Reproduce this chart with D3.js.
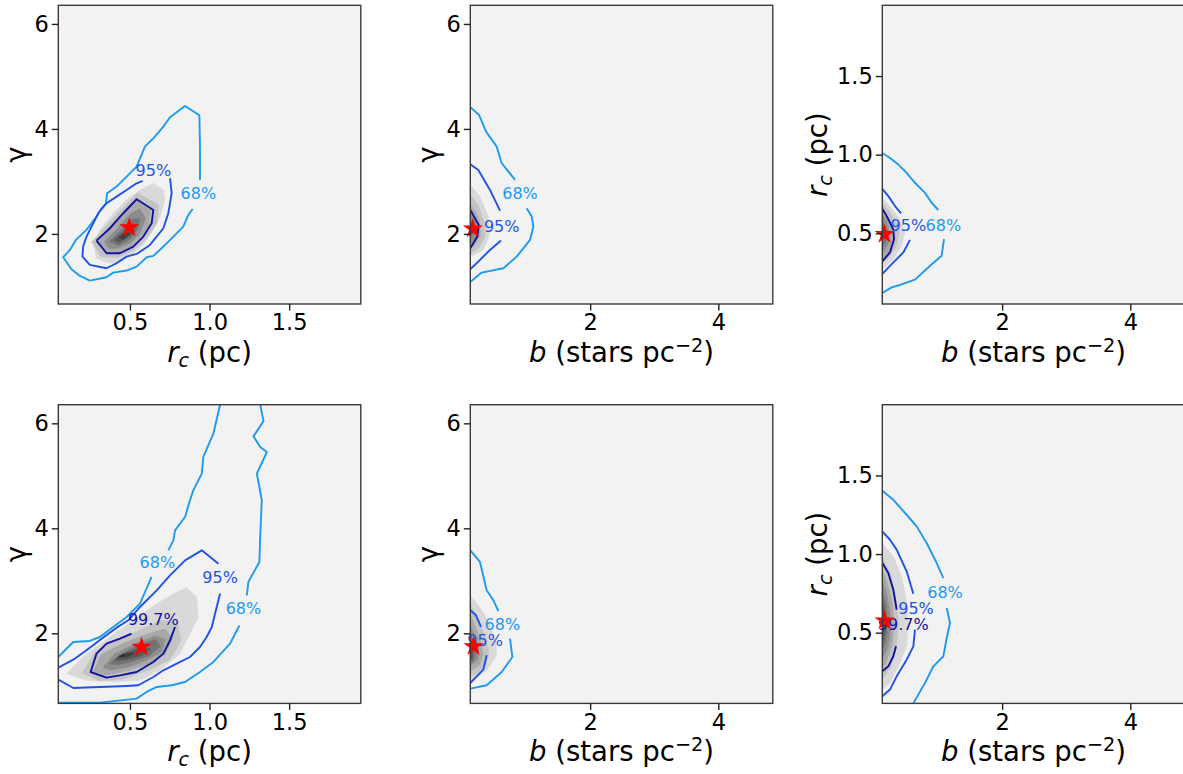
<!DOCTYPE html>
<html><head><meta charset="utf-8">
<script src="https://cdn.jsdelivr.net/npm/d3@7"></script>
<style>body{margin:0;background:#fff;} svg{display:block;font-family:"DejaVu Sans",sans-serif;}</style>
</head><body><svg id="chart" width="1183" height="774"></svg>
<script>
// ---------- axis data ----------
const RC_DOMAIN = [0.05, 1.95];
const GAMMA_DOMAIN = [0.665, 6.355];
const B_DOMAIN = [0.13, 4.85];
const RC_TICKS = [0.5, 1.0, 1.5];
const GAMMA_TICKS = [2, 4, 6];
const B_TICKS = [2, 4];
const LEVEL_NAMES = ["68%", "95%", "99.7%"];

// ---------- panel 1: r_c vs gamma (top) ----------
const p1_68 = [[[0.94,3.029],[0.94,3.663],[0.936,4.26],[0.846,4.438],[0.752,4.222],[0.71,4.044],[0.647,3.822],[0.594,3.663],[0.542,3.283],[0.479,3.092],[0.416,2.902],[0.357,2.775],[0.349,2.584],[0.322,2.489],[0.29,2.33],[0.227,2.076],[0.16,1.886],[0.123,1.695],[0.081,1.556],[0.133,1.327],[0.186,1.2],[0.248,1.111],[0.353,1.175],[0.395,1.263],[0.479,1.302],[0.542,1.378],[0.605,1.556],[0.647,1.581],[0.71,1.759],[0.773,1.949],[0.835,2.14],[0.867,2.362],[0.894,2.476]]];
const p1_95 = [[[0.58,3.01],[0.542,2.965],[0.479,2.838],[0.416,2.711],[0.353,2.584],[0.301,2.394],[0.259,2.14],[0.227,1.949],[0.206,1.759],[0.202,1.568],[0.248,1.41],[0.353,1.346],[0.416,1.441],[0.479,1.568],[0.542,1.619],[0.626,1.79],[0.71,2.108],[0.741,2.394],[0.762,2.775],[0.752,3.06]]];
const p1_997 = [[[0.29,1.873],[0.374,2.108],[0.458,2.394],[0.542,2.66],[0.647,2.457],[0.636,2.203],[0.584,1.949],[0.521,1.759],[0.437,1.632],[0.353,1.632],[0.29,1.873]]];
const p1_fill = [
 [[0.647,2.965],[0.71,2.838],[0.72,2.648],[0.689,2.33],[0.647,2.076],[0.584,1.79],[0.5,1.581],[0.406,1.441],[0.353,1.454],[0.29,1.537],[0.274,1.759],[0.311,2.076],[0.395,2.394],[0.479,2.648],[0.563,2.838]],
 [[0.26,1.85],[0.35,2.15],[0.45,2.48],[0.55,2.78],[0.68,2.55],[0.67,2.2],[0.6,1.9],[0.52,1.68],[0.42,1.55],[0.32,1.56]],
 [[0.3,1.86],[0.38,2.1],[0.46,2.38],[0.54,2.63],[0.63,2.45],[0.62,2.2],[0.57,1.95],[0.51,1.77],[0.43,1.65],[0.35,1.65]],
 [[0.34,1.85],[0.42,2.1],[0.5,2.38],[0.56,2.48],[0.6,2.3],[0.56,2.0],[0.5,1.82],[0.42,1.72],[0.37,1.72]],
 [[0.37,1.85],[0.44,2.05],[0.51,2.28],[0.56,2.3],[0.55,2.1],[0.5,1.9],[0.43,1.78]],
 [[0.4,1.88],[0.46,2.04],[0.52,2.18],[0.53,2.05],[0.48,1.92],[0.43,1.84]],
 [[0.43,1.92],[0.48,2.05],[0.5,2.0],[0.46,1.9]]
];
const p1_labels = [["95%",0.647,3.206,1],["68%",0.93,2.775,0]];
const p1_star = [0.496, 2.12];

// ---------- panel 2: b vs gamma (top) ----------
const p2_68 = [
 [[0.13,4.413],[0.266,4.267],[0.375,3.949],[0.542,3.663],[0.62,3.346],[0.828,3.029]],
 [[1.01,2.489],[1.088,2.33],[1.114,2.14],[1.062,1.886],[0.854,1.568],[0.646,1.346],[0.307,1.263],[0.13,1.086]]
];
const p2_95 = [
 [[0.13,3.327],[0.255,3.219],[0.437,2.838],[0.594,2.444]],
 [[0.609,1.873],[0.437,1.695],[0.281,1.505],[0.13,1.327]]
];
const p2_997 = [[[0.13,2.457],[0.188,2.33],[0.261,2.171],[0.24,1.949],[0.177,1.822],[0.13,1.727]]];
const p2_fill = [
 [[0.13,2.933],[0.281,2.711],[0.411,2.33],[0.427,1.981],[0.333,1.695],[0.13,1.568]],
 [[0.13,2.75],[0.25,2.55],[0.35,2.2],[0.36,1.95],[0.27,1.75],[0.13,1.62]],
 [[0.13,2.55],[0.22,2.4],[0.29,2.15],[0.28,1.95],[0.2,1.8],[0.13,1.7]],
 [[0.13,2.4],[0.2,2.25],[0.24,2.1],[0.22,1.95],[0.13,1.8]],
 [[0.13,2.28],[0.18,2.15],[0.19,2.05],[0.13,1.9]],
 [[0.13,2.18],[0.155,2.1],[0.13,2.0]]
];
const p2_labels = [["68%",0.906,2.775,0],["95%",0.62,2.152,1]];
const p2_star = [0.17, 2.1];

// ---------- panel 3: b vs r_c (top) ----------
const p3_68 = [
 [[0.13,1.011],[0.25,0.979],[0.38,0.937],[0.51,0.884],[0.64,0.821],[0.796,0.757],[0.9,0.694],[1.004,0.648]],
 [[1.093,0.462],[1.056,0.357],[0.875,0.293],[0.64,0.205],[0.406,0.171],[0.276,0.156],[0.13,0.12]]
];
const p3_95 = [
 [[0.13,0.783],[0.224,0.736],[0.328,0.673],[0.422,0.627]],
 [[0.562,0.458],[0.458,0.378],[0.276,0.304],[0.13,0.241]]
];
const p3_997 = [[[0.13,0.656],[0.198,0.61],[0.302,0.525],[0.313,0.462],[0.25,0.378],[0.13,0.321]]];
const p3_fill = [
 [[0.13,0.726],[0.25,0.673],[0.406,0.589],[0.484,0.504],[0.432,0.42],[0.302,0.335],[0.13,0.272]],
 [[0.13,0.69],[0.24,0.64],[0.36,0.56],[0.39,0.49],[0.34,0.41],[0.22,0.34],[0.13,0.31]],
 [[0.13,0.65],[0.2,0.61],[0.29,0.54],[0.3,0.47],[0.25,0.39],[0.13,0.33]],
 [[0.13,0.62],[0.2,0.57],[0.24,0.5],[0.22,0.43],[0.13,0.37]],
 [[0.13,0.58],[0.18,0.54],[0.2,0.49],[0.17,0.44],[0.13,0.41]],
 [[0.13,0.55],[0.16,0.5],[0.13,0.45]]
];
const p3_labels = [["95%",0.536,0.553,1],["68%",1.082,0.553,0]];
const p3_star = [0.165, 0.494];

// ---------- panel 4: r_c vs gamma (bottom) ----------
const p4_68 = [
 [[0.05,1.549],[0.144,1.835],[0.248,1.854],[0.311,1.93],[0.395,2.121],[0.479,2.311],[0.563,2.565],[0.636,3.073]],
 [[0.741,3.581],[0.773,3.771],[0.783,3.962],[0.846,4.216],[0.877,4.533],[0.898,4.724],[0.951,5.041],[0.961,5.359],[1.024,5.803],[1.066,6.355]],
 [[0.05,0.68],[0.311,0.68],[0.542,0.756],[0.605,0.883],[0.668,0.978],[0.762,1.01],[0.846,1.073],[0.94,1.263],[1.024,1.454],[1.129,1.803],[1.15,1.93],[1.188,2.152]],
 [[1.234,2.724],[1.244,2.978],[1.313,3.359],[1.318,3.835],[1.328,4.533],[1.313,4.787],[1.297,5.041],[1.36,5.454],[1.318,5.549],[1.276,5.752],[1.339,6.044],[1.318,6.355]]
];
const p4_95 = [
 [[0.05,1.346],[0.144,1.498],[0.227,1.676],[0.322,1.898],[0.416,2.108],[0.49,2.248],[0.563,2.502],[0.668,2.819],[0.752,3.105],[0.846,3.39],[0.951,3.581],[1.056,3.327]],
 [[1.066,2.756],[1.045,2.502],[1.014,2.121],[0.982,1.93],[0.94,1.74],[0.877,1.549],[0.794,1.422],[0.71,1.295],[0.647,1.168],[0.552,1.01],[0.479,0.997],[0.311,0.978],[0.144,0.959],[0.05,1.117]]
];
const p4_997 = [[[0.51,1.994],[0.437,1.898],[0.353,1.803],[0.29,1.613],[0.253,1.263],[0.353,1.156],[0.437,1.2],[0.542,1.263],[0.647,1.454],[0.71,1.613],[0.752,1.867],[0.783,2.121]]];
const p4_fill = [
 [[0.102,1.232],[0.227,1.613],[0.374,1.93],[0.521,2.248],[0.668,2.565],[0.773,2.756],[0.856,2.87],[0.919,2.692],[0.93,2.311],[0.877,1.994],[0.814,1.613],[0.689,1.295],[0.563,1.105],[0.395,1.073],[0.227,1.105]],
 [[0.2,1.25],[0.28,1.65],[0.4,1.85],[0.55,2.05],[0.7,2.25],[0.8,2.2],[0.82,1.85],[0.75,1.5],[0.62,1.3],[0.45,1.12],[0.3,1.1]],
 [[0.27,1.28],[0.32,1.6],[0.45,1.8],[0.6,1.98],[0.72,2.08],[0.77,1.9],[0.72,1.6],[0.62,1.42],[0.48,1.28],[0.35,1.2]],
 [[0.33,1.35],[0.4,1.6],[0.53,1.8],[0.66,1.95],[0.72,1.88],[0.7,1.65],[0.6,1.48],[0.48,1.35],[0.38,1.3]],
 [[0.37,1.42],[0.44,1.6],[0.56,1.78],[0.66,1.88],[0.69,1.75],[0.62,1.57],[0.5,1.45],[0.42,1.4]],
 [[0.4,1.48],[0.47,1.62],[0.58,1.74],[0.63,1.7],[0.57,1.57],[0.47,1.49]],
 [[0.42,1.53],[0.48,1.62],[0.53,1.63],[0.49,1.55]],
 [[0.43,1.56],[0.46,1.6],[0.47,1.57]]
];
const p4_labels = [["68%",0.672,3.359,0],["95%",1.066,3.073,1],["68%",1.213,2.47,0],["99.7%",0.647,2.26,2]];
const p4_star = [0.573, 1.74];

// ---------- panel 5: b vs gamma (bottom) ----------
const p5_68 = [
 [[0.13,3.581],[0.281,3.359],[0.385,2.819],[0.49,2.629],[0.568,2.425]],
 [[0.75,1.898],[0.786,1.549],[0.62,1.263],[0.385,1.01],[0.13,0.946]]
];
const p5_95 = [
 [[0.13,2.438],[0.219,2.343],[0.297,2.121]],
 [[0.385,1.581],[0.333,1.308],[0.13,1.054]]
];
const p5_997 = [];
const p5_fill = [
 [[0.13,2.724],[0.281,2.502],[0.437,2.184],[0.541,1.803],[0.531,1.549],[0.385,1.295],[0.13,1.073]],
 [[0.13,2.55],[0.24,2.3],[0.36,1.95],[0.42,1.65],[0.38,1.4],[0.25,1.25],[0.13,1.17]],
 [[0.13,2.35],[0.22,2.1],[0.3,1.8],[0.33,1.6],[0.28,1.4],[0.13,1.28]],
 [[0.13,2.15],[0.2,1.95],[0.26,1.7],[0.25,1.5],[0.13,1.38]],
 [[0.13,2.0],[0.19,1.8],[0.21,1.62],[0.18,1.48],[0.13,1.43]],
 [[0.13,1.85],[0.17,1.68],[0.16,1.52],[0.13,1.48]]
];
const p5_labels = [["68%",0.63,2.165,0],["95%",0.36,1.867,1]];
const p5_star = [0.18, 1.75];

// ---------- panel 6: b vs r_c (bottom) ----------
const p6_68 = [
 [[0.13,1.403],[0.302,1.345],[0.51,1.25],[0.666,1.176],[0.822,1.07],[0.979,0.943],[1.083,0.847]],
 [[1.135,0.657],[1.187,0.561],[1.135,0.466],[1.083,0.35],[0.927,0.286],[0.796,0.18],[0.614,0.05]]
];
const p6_95 = [
 [[0.13,1.144],[0.25,1.091],[0.354,1.028],[0.51,0.89],[0.614,0.748]],
 [[0.64,0.519],[0.614,0.413],[0.51,0.328],[0.354,0.222],[0.25,0.138],[0.13,0.095]]
];
const p6_997 = [
 [[0.13,0.943],[0.224,0.879],[0.302,0.773],[0.354,0.646]],
 [[0.344,0.413],[0.302,0.35],[0.224,0.286],[0.13,0.254]]
];
const p6_fill = [
 [[0.13,1.07],[0.302,0.985],[0.432,0.858],[0.51,0.689],[0.536,0.561],[0.51,0.413],[0.406,0.307],[0.25,0.18],[0.13,0.138]],
 [[0.13,0.98],[0.25,0.88],[0.34,0.73],[0.38,0.56],[0.35,0.42],[0.26,0.28],[0.13,0.2]],
 [[0.13,0.9],[0.22,0.8],[0.29,0.68],[0.31,0.55],[0.28,0.42],[0.2,0.32],[0.13,0.27]],
 [[0.13,0.83],[0.2,0.74],[0.25,0.62],[0.26,0.52],[0.22,0.41],[0.13,0.33]],
 [[0.13,0.77],[0.18,0.68],[0.21,0.58],[0.2,0.48],[0.13,0.38]],
 [[0.13,0.71],[0.17,0.62],[0.18,0.54],[0.15,0.46],[0.13,0.43]],
 [[0.13,0.65],[0.155,0.58],[0.15,0.51],[0.13,0.48]]
];
const p6_labels = [["68%",1.109,0.758,0],["95%",0.656,0.657,1],["99.7%",0.458,0.551,2]];
const p6_star = [0.165, 0.576];

const panels = [
 {x:"rc", y:"gamma", c68:p1_68, c95:p1_95, c997:p1_997, fill:p1_fill, labels:p1_labels, star:p1_star},
 {x:"b",  y:"gamma", c68:p2_68, c95:p2_95, c997:p2_997, fill:p2_fill, labels:p2_labels, star:p2_star},
 {x:"b",  y:"rc",    c68:p3_68, c95:p3_95, c997:p3_997, fill:p3_fill, labels:p3_labels, star:p3_star},
 {x:"rc", y:"gamma", c68:p4_68, c95:p4_95, c997:p4_997, fill:p4_fill, labels:p4_labels, star:p4_star},
 {x:"b",  y:"gamma", c68:p5_68, c95:p5_95, c997:p5_997, fill:p5_fill, labels:p5_labels, star:p5_star},
 {x:"b",  y:"rc",    c68:p6_68, c95:p6_95, c997:p6_997, fill:p6_fill, labels:p6_labels, star:p6_star}
];

// ---------- styles ----------
const LINE_COLORS = ["#1e9af0", "#1f52e6", "#12129e"];
const GREYS = ["#d9d9d9","#c3c3c3","#a8a8a8","#8d8d8d","#737373","#595959","#3f3f3f","#262626"];
const BG = "#f2f2f2";
const COLS = [58.3, 470.3, 882.3], ROWS = [5.3, 404.7], W = 302.5, H = 298.7;
const TICK_FONT = 22.5, LABEL_FONT = 27.5, CLABEL_FONT = 16;

const domains = {rc: RC_DOMAIN, gamma: GAMMA_DOMAIN, b: B_DOMAIN};
const tickVals = {rc: RC_TICKS, gamma: GAMMA_TICKS, b: B_TICKS};
const fmts = {rc: d3.format(".1f"), gamma: d3.format("d"), b: d3.format("d")};

function axisLabel(sel, kind) {
  if (kind === "gamma") {
    sel.append("tspan").text("γ");
  } else if (kind === "rc") {
    sel.append("tspan").attr("font-style","italic").text("r");
    sel.append("tspan").attr("font-style","italic").attr("font-size","70%").attr("dy", 5).text("c");
    sel.append("tspan").attr("dy", -5).text(" (pc)");
  } else {
    sel.append("tspan").attr("font-style","italic").text("b");
    sel.append("tspan").text(" (stars pc");
    sel.append("tspan").attr("font-size","70%").attr("dy", -10).text("−2");
    sel.append("tspan").attr("dy", 10).text(")");
  }
}

const svg = d3.select("#chart");
svg.append("rect").attr("width",1183).attr("height",774).attr("fill","#fff");

panels.forEach((p, i) => {
  const x0 = COLS[i % 3], y0 = ROWS[Math.floor(i / 3)];
  const g = svg.append("g").attr("transform", `translate(${x0},${y0})`);
  const xs = d3.scaleLinear().domain(domains[p.x]).range([0, W]);
  const ys = d3.scaleLinear().domain(domains[p.y]).range([H, 0]);
  const cid = "clip" + i;
  g.append("clipPath").attr("id", cid).append("rect").attr("width", W).attr("height", H);

  const plot = g.append("g").attr("clip-path", `url(#${cid})`);
  plot.append("rect").attr("width", W).attr("height", H).attr("fill", BG);

  const poly = d3.line().x(d => xs(d[0])).y(d => ys(d[1])).curve(d3.curveLinearClosed);
  const line = d3.line().x(d => xs(d[0])).y(d => ys(d[1]));

  p.fill.forEach((pg, k) => {
    plot.append("path").attr("d", poly(pg)).attr("fill", GREYS[k]).attr("stroke", GREYS[k]).attr("stroke-width", 0.5);
  });
  [p.c68, p.c95, p.c997].forEach((segs, k) => {
    segs.forEach(s => {
      plot.append("path").attr("d", line(s)).attr("fill", "none")
        .attr("stroke", LINE_COLORS[k]).attr("stroke-width", 1.9).attr("stroke-linejoin","round");
    });
  });

  // contour labels (not clipped)
  p.labels.forEach(([t, lx, ly, k]) => {
    g.append("text").attr("x", xs(lx)).attr("y", ys(ly)).attr("dy", "0.36em")
      .attr("text-anchor", "middle").attr("font-size", CLABEL_FONT)
      .attr("fill", LINE_COLORS[k]).text(t);
  });

  // best-fit star
  g.append("path").attr("d", d3.symbol().type(d3.symbolStar).size(125)())
    .attr("transform", `translate(${xs(p.star[0])},${ys(p.star[1])})`)
    .attr("fill", "#ff0000");

  // spines
  g.append("rect").attr("width", W).attr("height", H).attr("fill", "none")
    .attr("stroke", "#3a3a3a").attr("stroke-width", 1.4);

  // axes
  const xa = g.append("g").attr("transform", `translate(0,${H})`)
    .call(d3.axisBottom(xs).tickValues(tickVals[p.x]).tickFormat(fmts[p.x]).tickSize(6.5).tickPadding(4).tickSizeOuter(0));
  const ya = g.append("g")
    .call(d3.axisLeft(ys).tickValues(tickVals[p.y]).tickFormat(fmts[p.y]).tickSize(6.5).tickPadding(3).tickSizeOuter(0));
  [xa, ya].forEach(a => {
    a.select(".domain").remove();
    a.selectAll("line").attr("stroke", "#222").attr("stroke-width", 1.4);
    a.selectAll("text").attr("font-size", TICK_FONT).attr("fill", "#000")
      .attr("font-family", "DejaVu Sans, sans-serif");
  });

  const bb = ya.node().getBBox();
  const xl = g.append("text").attr("x", W / 2).attr("y", H + 58)
    .attr("text-anchor", "middle").attr("font-size", LABEL_FONT).attr("fill", "#000");
  axisLabel(xl, p.x);
  const yoff = p.y === "gamma" ? -8 : -10;
  const yl = g.append("text").attr("transform", `translate(${bb.x + yoff},${H / 2}) rotate(-90)`)
    .attr("text-anchor", "middle").attr("font-size", LABEL_FONT).attr("fill", "#000");
  axisLabel(yl, p.y);
});
</script>
</body></html>
